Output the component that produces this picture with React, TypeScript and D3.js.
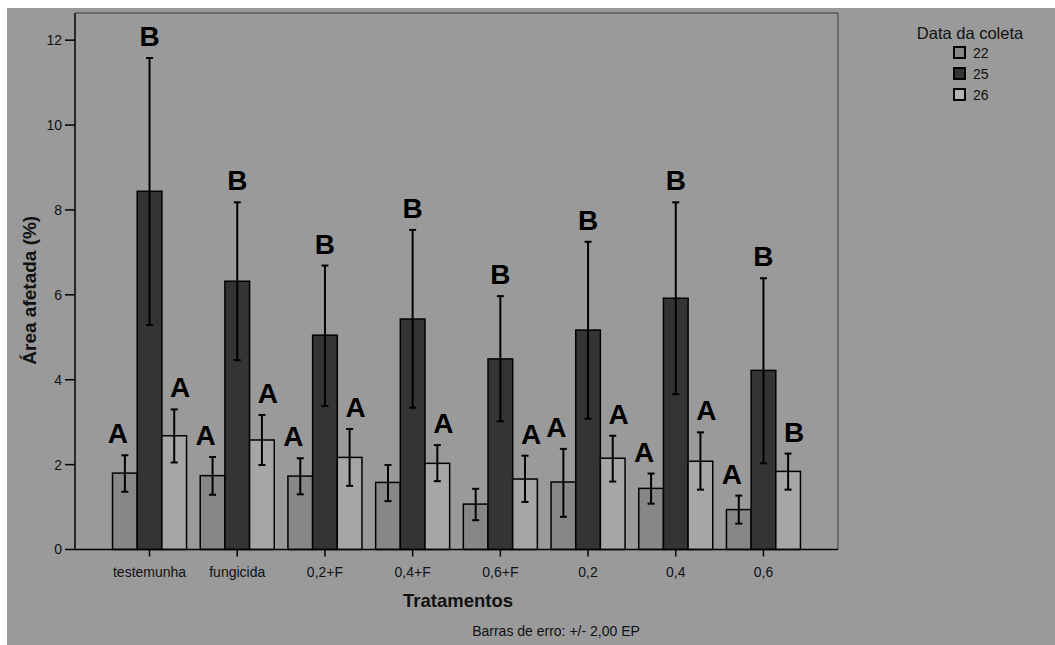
import React from 'react';
import * as d3 from 'd3';

// treatments on the x axis
const categories = ['testemunha', 'fungicida', '0,2+F', '0,4+F', '0,6+F', '0,2', '0,4', '0,6'];
// collection dates (legend)
const series = ['22', '25', '26'];

// means and +/- 2 SE limits
const mean22 = [1.8, 1.74, 1.73, 1.58, 1.07, 1.59, 1.44, 0.94];
const low22 = [1.36, 1.29, 1.3, 1.14, 0.69, 0.77, 1.08, 0.61];
const high22 = [2.22, 2.18, 2.15, 1.99, 1.43, 2.37, 1.79, 1.27];

const mean25 = [8.44, 6.32, 5.05, 5.43, 4.49, 5.17, 5.92, 4.22];
const low25 = [5.29, 4.46, 3.38, 3.34, 3.02, 3.08, 3.66, 2.03];
const high25 = [11.58, 8.18, 6.69, 7.53, 5.97, 7.25, 8.18, 6.39];

const mean26 = [2.68, 2.58, 2.17, 2.03, 1.66, 2.15, 2.08, 1.84];
const low26 = [2.05, 1.99, 1.5, 1.61, 1.12, 1.6, 1.41, 1.41];
const high26 = [3.3, 3.17, 2.84, 2.46, 2.21, 2.68, 2.76, 2.26];

// significance letters
const letters22 = ['A', 'A', 'A', '', '', 'A', 'A', 'A'];
const letters25 = ['B', 'B', 'B', 'B', 'B', 'B', 'B', 'B'];
const letters26 = ['A', 'A', 'A', 'A', 'A', 'A', 'A', 'B'];

const yTicks = [0, 2, 4, 6, 8, 10, 12];

const W = 1055;
const H = 645;
const plot = { left: 75, right: 838, top: 13, bottom: 549.5 };
const fills: Record<string, string> = { '22': '#878787', '25': '#343434', '26': '#a6a6a6' };
const letterShift: Record<string, number> = { '22': -7, '25': 0, '26': 6 };
const font = '"Liberation Sans", Arial, sans-serif';

const means: Record<string, number[]> = { '22': mean22, '25': mean25, '26': mean26 };
const lows: Record<string, number[]> = { '22': low22, '25': low25, '26': low26 };
const highs: Record<string, number[]> = { '22': high22, '25': high25, '26': high26 };
const letters: Record<string, string[]> = { '22': letters22, '25': letters25, '26': letters26 };

export default function App() {
  const x = d3
    .scaleBand<string>()
    .domain(categories)
    .range([plot.left, plot.right])
    .paddingInner(0.156)
    .paddingOuter(0.428);

  const x1 = d3.scaleBand<string>().domain(series).range([0, x.bandwidth()]).padding(0);

  const y = d3.scaleLinear().domain([0, 12.64]).range([plot.bottom, plot.top]);

  return (
    <svg width={W} height={H} style={{ position: 'absolute', left: 0, top: 0 }}>
      <rect x={7} y={8} width={W - 7} height={H - 8} fill="#9a9a9a" />

      {/* frame */}
      <line x1={plot.left} x2={plot.right} y1={plot.top} y2={plot.top} stroke="#3a3a3a" strokeWidth={1} />
      <line x1={plot.right} x2={plot.right} y1={plot.top} y2={plot.bottom} stroke="#3a3a3a" strokeWidth={1} />

      {/* bars */}
      {categories.map((c, i) => (
        <g key={c} transform={`translate(${x(c)},0)`}>
          {series.map(s => (
            <rect
              key={s}
              x={x1(s)}
              y={y(means[s][i])}
              width={x1.bandwidth()}
              height={y(0) - y(means[s][i])}
              fill={fills[s]}
              stroke="#000"
              strokeWidth={1.5}
            />
          ))}
        </g>
      ))}

      {/* error bars and letters */}
      {categories.map((c, i) => (
        <g key={c + 'e'}>
          {series.map(s => {
            const cx = (x(c) ?? 0) + (x1(s) ?? 0) + x1.bandwidth() / 2;
            const top = y(highs[s][i]);
            const bot = y(lows[s][i]);
            return (
              <g key={s}>
                <line x1={cx} x2={cx} y1={top} y2={bot} stroke="#000" strokeWidth={2} />
                <line x1={cx - 3.5} x2={cx + 3.5} y1={top} y2={top} stroke="#000" strokeWidth={2} />
                <line x1={cx - 3.5} x2={cx + 3.5} y1={bot} y2={bot} stroke="#000" strokeWidth={2} />
                {letters[s][i] && (
                  <text
                    x={cx + letterShift[s]}
                    y={top - 12}
                    textAnchor="middle"
                    fontFamily={font}
                    fontWeight="bold"
                    fontSize={28}
                    fill="#000"
                  >
                    {letters[s][i]}
                  </text>
                )}
              </g>
            );
          })}
        </g>
      ))}

      {/* y axis */}
      <line x1={plot.left} x2={plot.left} y1={plot.top} y2={plot.bottom} stroke="#000" strokeWidth={1.5} />
      {yTicks.map(t => (
        <g key={t} transform={`translate(0,${y(t)})`}>
          <line x1={plot.left - 10} x2={plot.left} stroke="#000" strokeWidth={1.5} />
          <text x={plot.left - 13} dy="0.35em" textAnchor="end" fontFamily={font} fontSize={14} fill="#111">
            {t}
          </text>
        </g>
      ))}

      {/* x axis */}
      <line x1={plot.left} x2={plot.right} y1={plot.bottom} y2={plot.bottom} stroke="#000" strokeWidth={1.5} />
      {categories.map(c => {
        const cx = (x(c) ?? 0) + x.bandwidth() / 2;
        return (
          <g key={c + 't'} transform={`translate(${cx},${plot.bottom})`}>
            <line y1={0} y2={7} stroke="#000" strokeWidth={1.5} />
            <text y={27} textAnchor="middle" fontFamily={font} fontSize={14} fill="#111">
              {c}
            </text>
          </g>
        );
      })}

      <text x={458} y={607} textAnchor="middle" fontFamily={font} fontWeight="bold" fontSize={18.5} fill="#111">
        Tratamentos
      </text>
      <text
        transform={`translate(36,${(plot.top + plot.bottom) / 2 + 9}) rotate(-90)`}
        textAnchor="middle"
        fontFamily={font}
        fontWeight="bold"
        fontSize={19}
        fill="#111"
      >
        Área afetada (%)
      </text>
      <text x={556} y={636} textAnchor="middle" fontFamily={font} fontSize={14} fill="#111">
        Barras de erro: +/- 2,00 EP
      </text>

      {/* legend */}
      <text x={970} y={39} textAnchor="middle" fontFamily={font} fontSize={16.5} fill="#111">
        Data da coleta
      </text>
      {series.map((s, i) => (
        <g key={s + 'l'} transform={`translate(954,${47 + i * 21})`}>
          <rect x={0} y={0} width={11} height={11} fill={s === '26' ? '#b4b4b4' : fills[s]} stroke="#000" strokeWidth={2} />
          <text x={19} y={10.5} fontFamily={font} fontSize={14} fill="#111">
            {s}
          </text>
        </g>
      ))}
    </svg>
  );
}
